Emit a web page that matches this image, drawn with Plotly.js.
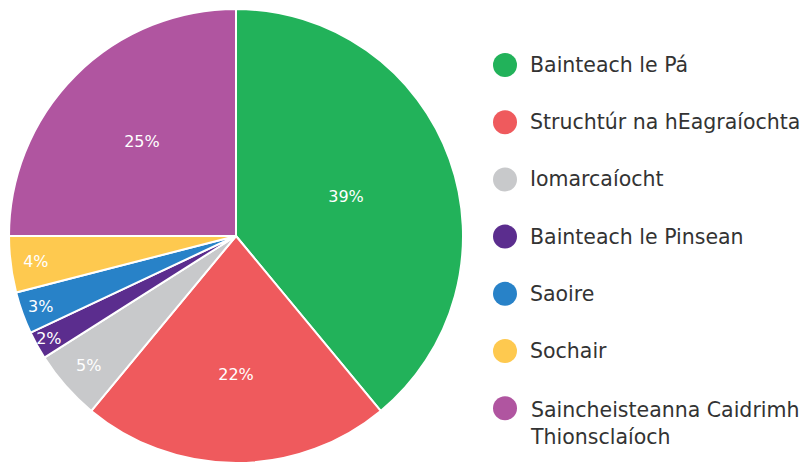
<!DOCTYPE html>
<html><head><meta charset="utf-8">
<script src="https://cdn.plot.ly/plotly-3.0.1.min.js"></script>
<style>html,body{margin:0;padding:0;background:#fff}#chart{width:810px;height:464px}</style>
</head><body><div id="chart"></div>
<script>
const labels = ["Bainteach le Pá","Struchtúr na hEagraíochta","Iomarcaíocht","Bainteach le Pinsean","Saoire","Sochair","Saincheisteanna Caidrimh<br>Thionsclaíoch"];
const values = [39,22,5,2,3,4,25];
const colors = ["#22b25a","#ef5a5d","#c8c9cb","#5b2d8e","#2882c8","#fec94f","#b055a0"];

const FONT = "DejaVu Sans, sans-serif";
const W = 810, H = 464;
const pie = {
  type: "pie", labels: labels, values: values, sort: false, direction: "clockwise", rotation: 0,
  marker: {colors: colors, line: {color: "#ffffff", width: 2}},
  textinfo: "percent", texttemplate: "%{value}%", textposition: "inside", insidetextorientation: "horizontal",
  insidetextfont: {color: "#ffffff", size: 16, family: FONT},
  domain: {x: [9/W, 463/W], y: [1/H, 455/H]},
  showlegend: false, hoverinfo: "label+percent"
};

const shapes = [], annotations = [];
const lx = 505, ly0 = 65, dy = 57.2;
labels.forEach((l, i) => {
  const cy = ly0 + i*dy;
  const multi = l.includes("<br>");
  shapes.push({type: "circle", xref: "paper", yref: "paper",
    x0: (lx-12)/W, x1: (lx+12)/W, y0: 1-(cy+12)/H, y1: 1-(cy-12)/H,
    fillcolor: colors[i], line: {width: 0}});
  annotations.push({xref: "paper", yref: "paper", x: 528/W, y: 1-cy/H,
    xanchor: "left", yanchor: multi ? "top" : "middle",
    yshift: multi ? 12 : 0,
    text: l, showarrow: false, align: "left",
    font: {family: FONT, size: 20.5, color: "#333333"}});
});

Plotly.newPlot("chart", [pie], {
  width: W, height: H, margin: {l: 0, r: 0, t: 0, b: 0},
  paper_bgcolor: "#ffffff", shapes: shapes, annotations: annotations,
  uniformtext: {mode: "show", minsize: 16},
  font: {family: FONT}
}, {displayModeBar: false, staticPlot: true});
</script></body></html>
